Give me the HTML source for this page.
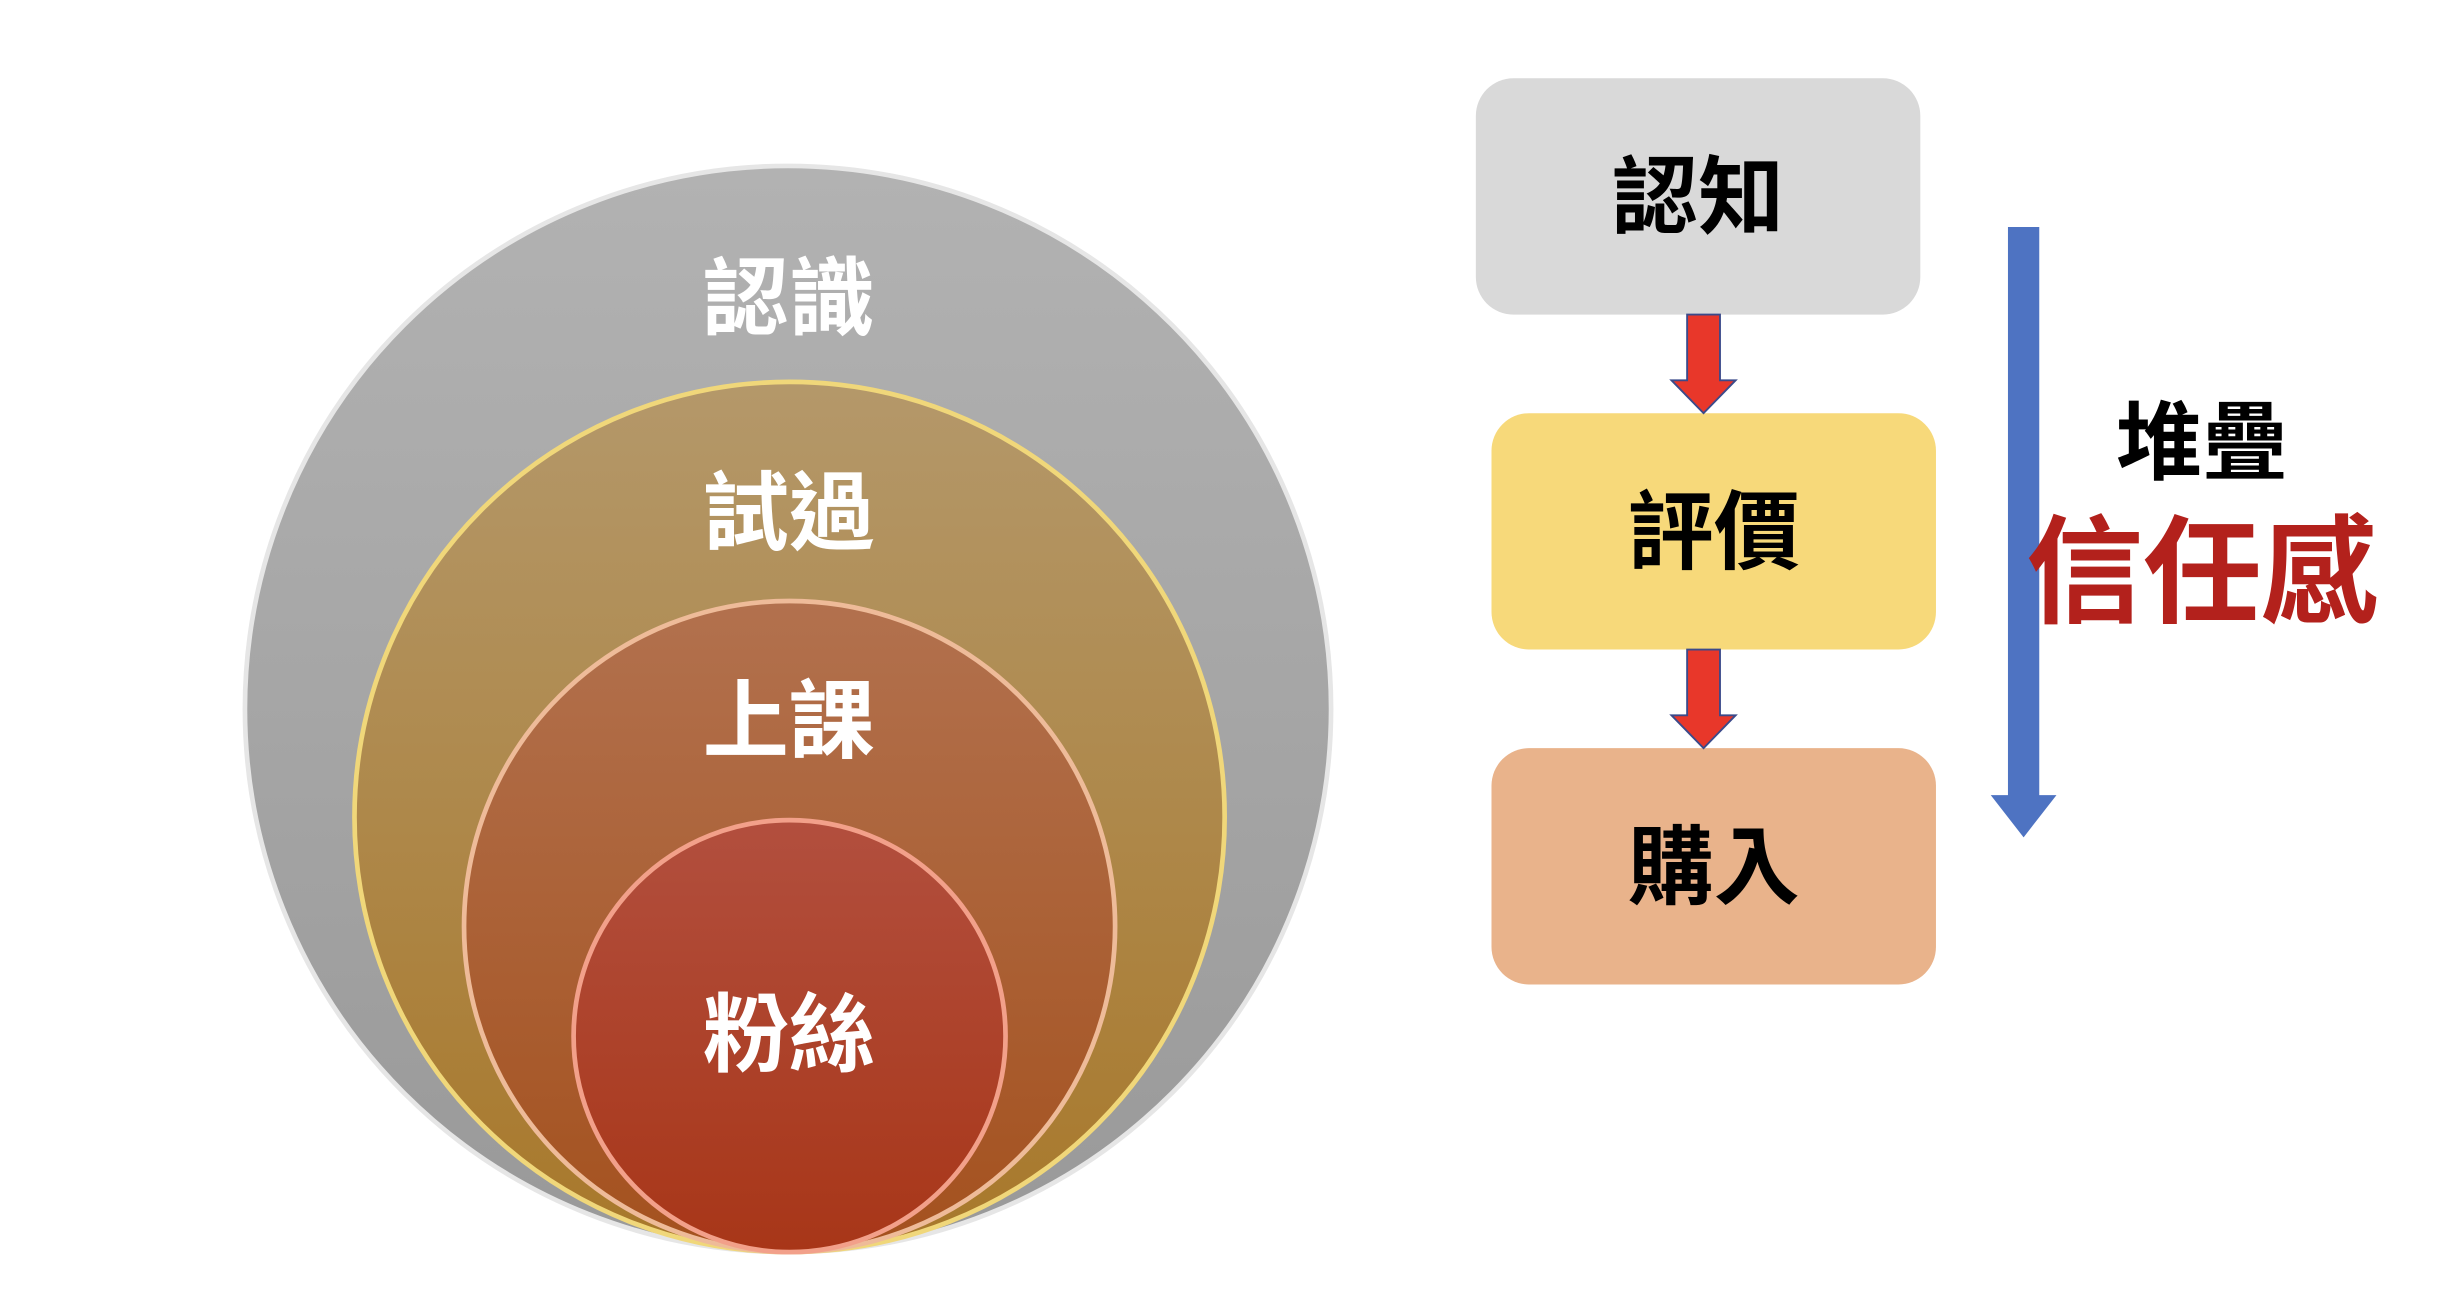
<!DOCTYPE html>
<html><head><meta charset="utf-8"><style>html,body{margin:0;padding:0;background:#fff}svg{display:block}</style></head>
<body>
<svg width="2454" height="1292" viewBox="0 0 1568 825.5" xmlns="http://www.w3.org/2000/svg" font-family="'Liberation Sans','Noto Sans CJK TC',sans-serif" font-weight="bold">
<defs>
<linearGradient id="g1" x1="0" y1="0" x2="0" y2="1"><stop offset="0" stop-color="#b2b2b2"/><stop offset="1" stop-color="#999"/></linearGradient>
<linearGradient id="g2" x1="0" y1="0" x2="0" y2="1"><stop offset="0" stop-color="#b4986a"/><stop offset="1" stop-color="#a8782a"/></linearGradient>
<linearGradient id="g3" x1="0" y1="0" x2="0" y2="1"><stop offset="0" stop-color="#b2714e"/><stop offset="1" stop-color="#a4511e"/></linearGradient>
<linearGradient id="g4" x1="0" y1="0" x2="0" y2="1"><stop offset="0" stop-color="#b24f3e"/><stop offset="1" stop-color="#a83618"/></linearGradient>
</defs>
<circle cx="503.5" cy="453" r="347" fill="url(#g1)" stroke="#e6e6e6" stroke-width="3"/>
<circle cx="504.5" cy="522" r="278" fill="url(#g2)" stroke="#f0d77a" stroke-width="3"/>
<circle cx="504.5" cy="592" r="208" fill="url(#g3)" stroke="#eebb99" stroke-width="3"/>
<circle cx="504.5" cy="662" r="138" fill="url(#g4)" stroke="#f2a08a" stroke-width="3"/>
<g fill="#fff" font-size="55" text-anchor="middle">
<text x="504" y="210">認識</text>
<text x="504" y="347">試過</text>
<text x="504" y="480">上課</text>
<text x="504" y="680">粉絲</text>
</g>
<rect x="943" y="50" width="284" height="151" rx="24" fill="#d9d9d9"/>
<rect x="953" y="264" width="284" height="151" rx="24" fill="#f7d97a"/>
<rect x="953" y="478" width="284" height="151" rx="24" fill="#e9b38b"/>
<g fill="#000" font-size="55" text-anchor="middle">
<text x="1085" y="145">認知</text>
<text x="1095" y="359">評價</text>
<text x="1095" y="573">購入</text>
</g>
<polygon points="1078,201 1099,201 1099,243 1109,243 1088.5,264 1068,243 1078,243" fill="#e8372a" stroke="#3b4a8a" stroke-width="1.2"/>
<polygon points="1078,415 1099,415 1099,457 1109,457 1088.5,478 1068,457 1078,457" fill="#e8372a" stroke="#3b4a8a" stroke-width="1.2"/>
<polygon points="1283,145 1303,145 1303,508 1314,508 1293,535 1272,508 1283,508" fill="#4e73c2"/>
<text x="1407" y="302" font-size="55" text-anchor="middle" fill="#000">堆疊</text>
<text x="1407" y="392" font-size="75" text-anchor="middle" fill="#b3211c">信任感</text>
</svg>
</body></html>
